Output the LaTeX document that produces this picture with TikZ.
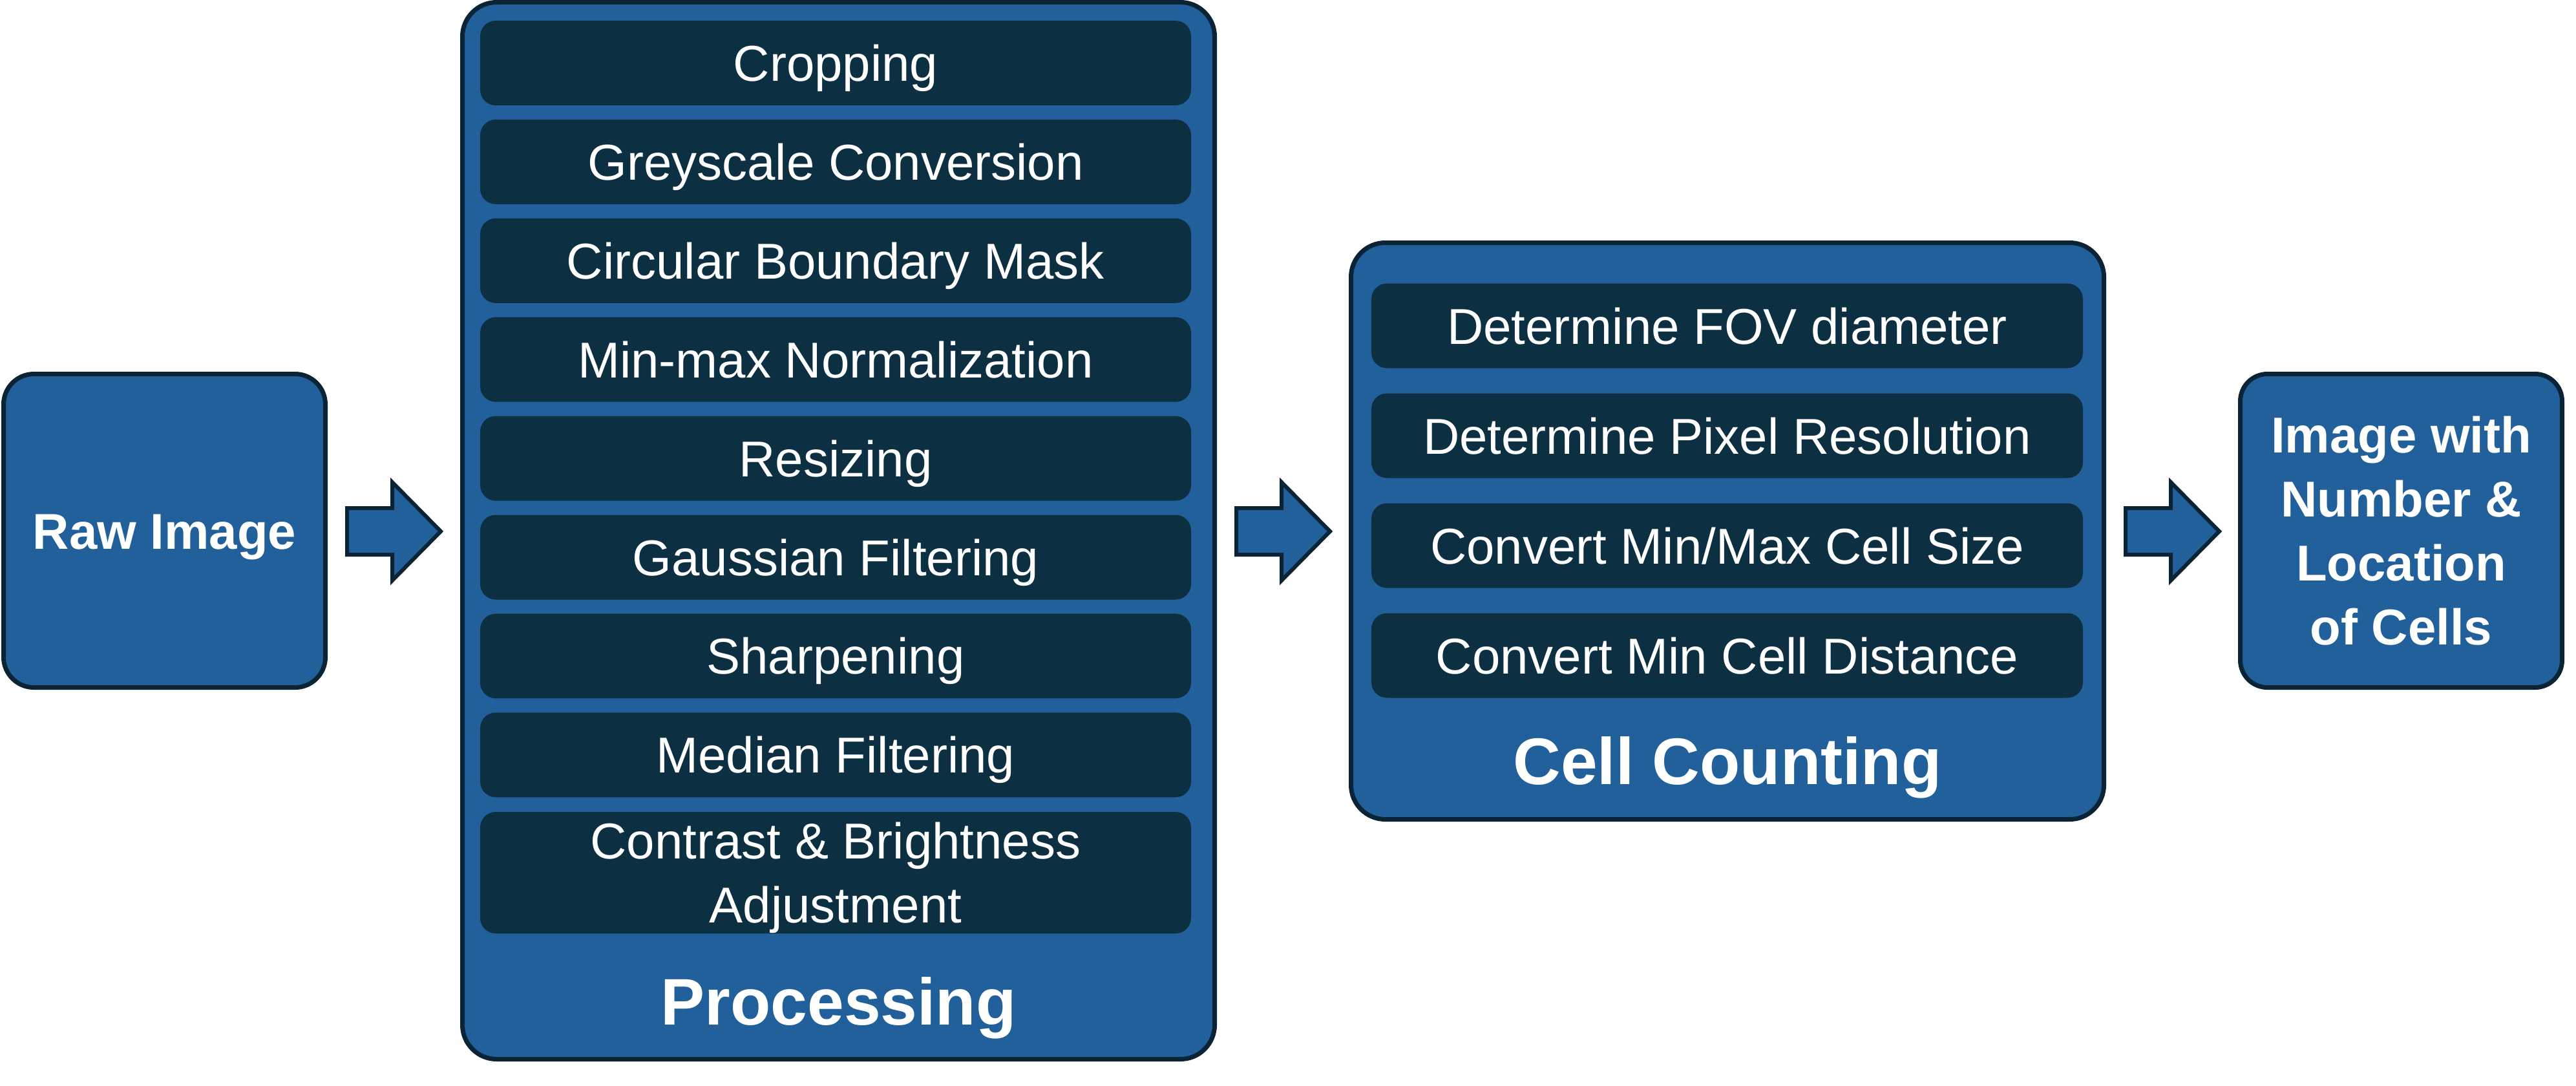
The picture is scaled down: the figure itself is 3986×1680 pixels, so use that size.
\documentclass[tikz,border=0pt]{standalone}
\usepackage{fontspec}
\setmainfont{Liberation Sans}
\usetikzlibrary{calc}
\definecolor{fillblue}{HTML}{22609B}
\definecolor{darkbox}{HTML}{0D2F42}
\definecolor{edgec}{HTML}{0A2435}
\begin{document}
\begin{tikzpicture}[x=1pt,y=-1pt,
  container/.style={draw=edgec, line width=7pt, fill=fillblue, inner sep=0pt, rounded corners=#1},
  stepbox/.style={fill=darkbox, rounded corners=24pt, inner sep=0pt, text=white,
    font=\fontsize{78}{99}\selectfont, text height=56pt, text depth=0pt,
    minimum height=131pt},
  pbox/.style={stepbox, minimum width=1100pt},
  cbox/.style={stepbox, minimum width=1101pt},
  endtext/.style={text=white, font=\fontsize{78}{99}\selectfont\bfseries, inner sep=0pt},
  title/.style={text=white, font=\fontsize{102}{120}\selectfont\bfseries, inner sep=0pt},
  blockarrow/.style={draw=edgec, line width=6pt, fill=fillblue, line join=miter}
]
\useasboundingbox (0,0) rectangle (3986,1680);

% outer containers
\node[container=47pt, minimum width=498pt, minimum height=485pt] (raw) at (254.5,821) {};
\node[container=53pt, minimum width=1164pt, minimum height=1635pt] (proc) at (1297.5,821) {};
\node[container=53pt, minimum width=1165pt, minimum height=892pt] (cell) at (2673,821.5) {};
\node[container=42pt, minimum width=498pt, minimum height=485pt] (final) at (3715.5,821) {};

% texts of end boxes
\node[endtext, text height=56pt, text depth=0pt] (rawtxt) at (raw.center) {Raw Image};
\node[endtext, text height=55pt, text depth=297pt] (finaltxt) at (final.center)
  {\begin{tabular}[t]{@{}c@{}}Image with\\Number \&\\Location\\of Cells\end{tabular}};

% processing steps
\node[pbox] (p1) at (1293,97.5) {Cropping};
\node[pbox] (p2) at (1293,250.4) {Greyscale Conversion};
\node[pbox] (p3) at (1293,403.3) {Circular Boundary Mask};
\node[pbox] (p4) at (1293,556.2) {Min-max Normalization};
\node[pbox] (p5) at (1293,709.1) {Resizing};
\node[pbox] (p6) at (1293,862) {Gaussian Filtering};
\node[pbox] (p7) at (1293,1014.9) {Sharpening};
\node[pbox] (p8) at (1293,1167.8) {Median Filtering};
\node[pbox, minimum height=188pt, text depth=99pt] (p9) at (1293,1350)
  {\begin{tabular}[t]{@{}c@{}}Contrast \& Brightness\\Adjustment\end{tabular}};
\node[title, anchor=base] (proclbl) at (1297.5,1585) {Processing};

% cell counting steps
\node[cbox] (c1) at (2672.5,504) {Determine FOV diameter};
\node[cbox] (c2) at (2672.5,674) {Determine Pixel Resolution};
\node[cbox] (c3) at (2672.5,844) {Convert Min/Max Cell Size};
\node[cbox] (c4) at (2672.5,1014) {Convert Min Cell Distance};
\node[title, anchor=base] (celllbl) at (2673,1213) {Cell Counting};

% block arrows
\path ($(raw.east)+(30,1)$) coordinate (a1s);
\path ($(proc.east)+(30,1)$) coordinate (a2s);
\path ($(cell.east)+(30,0.5)$) coordinate (a3s);
\foreach \s in {a1s,a2s,a3s}{
  \draw[blockarrow] (\s) ++(0,-36) -- ++(70,0) -- ++(0,-40) -- ++(75,76)
    -- ++(-75,76) -- ++(0,-40) -- ++(-70,0) -- cycle;
}
\end{tikzpicture}
\end{document}
